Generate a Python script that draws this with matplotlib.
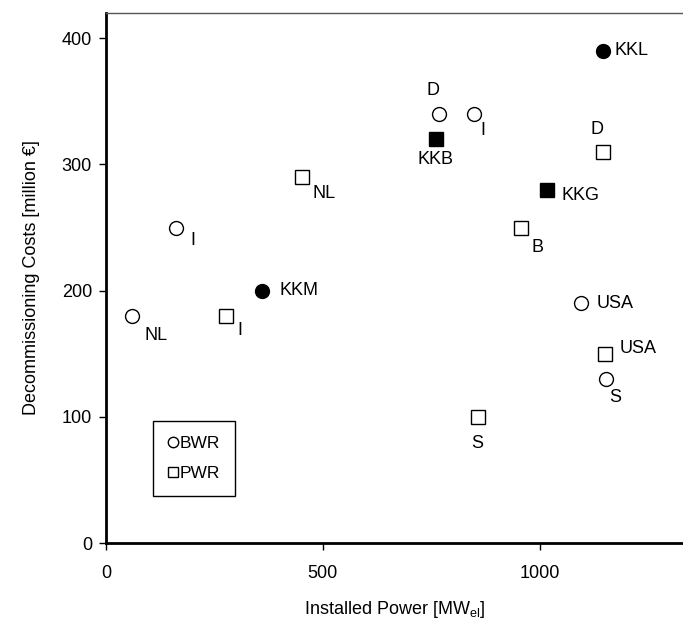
import matplotlib.pyplot as plt

plt.rcParams["font.family"] = ["Liberation Sans", "DejaVu Sans"]

# BWR plants (open circles) and the Swiss ones (filled)
bwr_power = [60, 162, 767, 848, 1094, 1152]
bwr_cost = [180, 250, 340, 340, 190, 130]
bwr_labels = ["NL", "I", "D", "I", "USA", "S"]

bwr_ch_power = [359, 1145]
bwr_ch_cost = [200, 390]
bwr_ch_labels = ["KKM", "KKL"]

# PWR plants (open squares) and the Swiss ones (filled)
pwr_power = [276, 453, 956, 1145, 1150, 857]
pwr_cost = [180, 290, 250, 310, 150, 100]
pwr_labels = ["I", "NL", "B", "D", "USA", "S"]

pwr_ch_power = [760, 1016]
pwr_ch_cost = [320, 280]
pwr_ch_labels = ["KKB", "KKG"]

# label offsets in pixels (dx, dy, ha)
bwr_off = [(24, -20, "center"), (17, -13, "center"), (-6, 24, "center"),
           (9, -16, "center"), (16, 0, "left"), (9, -19, "center")]
bwr_ch_off = [(18, 0, "left"), (12, 0, "left")]
pwr_off = [(14, -15, "center"), (10, -16, "left"), (17, -20, "center"),
           (-6, 22, "center"), (15, 5, "left"), (-1, -27, "center")]
pwr_ch_off = [(0, -20, "center"), (15, -6, "left")]

fs = 13

fig = plt.figure(figsize=(6.83, 6.22), dpi=100)
ax = fig.add_axes([0.155, 0.127, 0.845, 0.852])

ms = 10
ax.plot(bwr_power, bwr_cost, "o", ms=ms, mfc="white", mec="black", mew=1.0,
        label="BWR", clip_on=False)
ax.plot(bwr_ch_power, bwr_ch_cost, "o", ms=ms, mfc="black", mec="black",
        clip_on=False)
ax.plot(pwr_power, pwr_cost, "s", ms=ms - 0.5, mfc="white", mec="black",
        mew=1.0, label="PWR", clip_on=False)
ax.plot(pwr_ch_power, pwr_ch_cost, "s", ms=ms, mfc="black", mec="black",
        clip_on=False)


def put_labels(xs, ys, labels, offs):
    for x, y, t, (dx, dy, ha) in zip(xs, ys, labels, offs):
        ax.annotate(t, (x, y), xytext=(dx * 0.72, dy * 0.72),
                    textcoords="offset points", ha=ha, va="center",
                    fontsize=fs)


put_labels(bwr_power, bwr_cost, bwr_labels, bwr_off)
put_labels(bwr_ch_power, bwr_ch_cost, bwr_ch_labels, bwr_ch_off)
put_labels(pwr_power, pwr_cost, pwr_labels, pwr_off)
put_labels(pwr_ch_power, pwr_ch_cost, pwr_ch_labels, pwr_ch_off)

ax.set_xlim(0, 1330)
ax.set_ylim(0, 420)
ax.set_xticks([0, 500, 1000])
ax.set_yticks([0, 100, 200, 300, 400])
ax.tick_params(direction="out", length=5, width=1, labelsize=fs)
ax.tick_params(axis="x", pad=11)
ax.tick_params(axis="y", pad=5)

ax.spines["left"].set_linewidth(2)
ax.spines["bottom"].set_linewidth(2)
ax.spines["top"].set_linewidth(1)
ax.spines["top"].set_color("#555555")
ax.spines["right"].set_visible(False)

ax.set_xlabel("Installed Power [MW$_{\\mathregular{el}}$]", fontsize=fs,
              labelpad=12)
ax.set_ylabel("Decommissioning Costs [million €]", fontsize=fs, labelpad=16)

leg = ax.legend(loc="lower left", bbox_to_anchor=(0.082, 0.089),
                fontsize=12.5, frameon=True, fancybox=False, framealpha=1,
                edgecolor="black", handlelength=0.6, handletextpad=0.1,
                markerscale=0.75, borderpad=0.85, labelspacing=0.85,
                borderaxespad=0)
leg.get_frame().set_linewidth(1)

fig.savefig("out.png", dpi=100)
